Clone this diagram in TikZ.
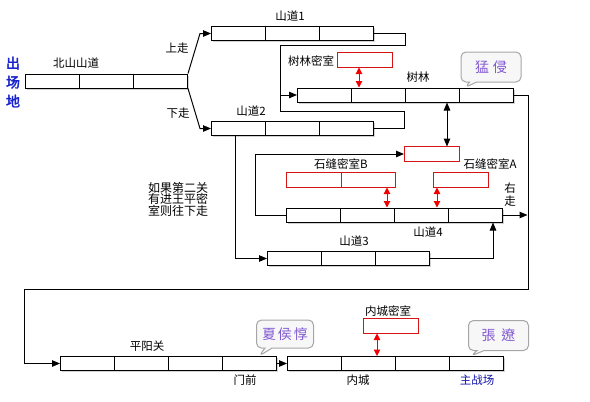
\documentclass[tikz,border=0pt]{standalone}
\usepackage{fontspec}
\setmainfont{Noto Sans CJK SC}
\newfontfamily\tcfont{Noto Sans CJK TC}
\newfontfamily\boldcjk[FakeBold=2.5]{Noto Sans CJK SC}
\usetikzlibrary{arrows.meta,shapes.callouts,shadows,calc}
\definecolor{redbox}{RGB}{215,20,20}
\definecolor{arrred}{RGB}{240,0,0}
\definecolor{callpurple}{RGB}{130,90,210}
\definecolor{bluetxt}{RGB}{20,20,170}
\definecolor{boldblue}{RGB}{25,35,205}
\newcommand\mkbar[5]{\foreach \i in {1,...,#4}{\node[#5] (#1-\i) at ({#2+54*(\i-1)},#3) {};}}
\tikzset{
  cellbase/.style={line width=1pt, minimum width=54pt, minimum height=14pt, inner sep=0pt, anchor=west},
  cell/.style={cellbase, fill=white, draw=black, drop shadow={shadow xshift=1.3pt, shadow yshift=-1.6pt, fill=black!35}},
  rcell/.style={cellbase, draw=none},
  redline/.style={draw=redbox, line width=1pt},
  lbl/.style={font=\fontsize{11.5}{13}\selectfont, inner sep=0pt},
  conn/.style={line width=1pt, draw=black},
  arr/.style={conn, -{Triangle[length=8pt,width=6.5pt]}},
  darr/.style={conn, {Triangle[length=8pt,width=6.5pt]}-{Triangle[length=8pt,width=6.5pt]}},
  rarr/.style={line width=1pt, draw=arrred, fill=arrred, {Triangle[length=6.5pt,width=6.5pt]}-{Triangle[length=6.5pt,width=6.5pt]}},
  bubble/.style={rectangle callout, draw=gray!70, line width=1pt, fill=gray!6, rounded corners=5pt,
    minimum width=60pt, minimum height=30pt, inner sep=0pt, text=callpurple, font=\tcfont\fontsize{14}{14}\selectfont}
}
\begin{document}
\begin{tikzpicture}[x=1pt,y=-1pt]
\useasboundingbox (0,0) rectangle (590,402);
% bars
\mkbar{bs}{25}{81}{3}{cell}
\mkbar{sd1}{211}{33.5}{3}{cell}
\mkbar{sd2}{211}{128.5}{3}{cell}
\mkbar{sl}{297}{95}{4}{cell}
\mkbar{sd4}{286}{215}{4}{cell}
\mkbar{sd3}{267}{258.5}{3}{cell}
\mkbar{pyg}{60}{363.5}{4}{cell}
\mkbar{nc}{287}{363.5}{4}{cell}
% red rooms (anchors), outlines drawn explicitly
\mkbar{r1}{337}{60}{1}{rcell}
\mkbar{r2}{404}{154}{1}{rcell}
\mkbar{rB}{286}{180}{2}{rcell}
\mkbar{rA}{433}{180}{1}{rcell}
\mkbar{rN}{363}{326}{1}{rcell}
\draw[redline] (r1-1.north west) rectangle (r1-1.south east);
\draw[redline] (r2-1.north west) rectangle (r2-1.south east);
\draw[redline] (rB-1.north west) rectangle (rB-2.south east);
\draw[redline] (rB-1.north east) -- (rB-1.south east);
\draw[redline] (rA-1.north west) rectangle (rA-1.south east);
\draw[redline] (rN-1.north west) rectangle (rN-1.south east);
% labels
\node[font=\boldcjk\fontsize{14}{19}\selectfont, text=boldblue, align=center, inner sep=0pt] (csd) at (13,82) {出\\场\\地};
\node[lbl] (lbs) at (76,63) {北山山道};
\node[lbl] (lup) at (177,48) {上走};
\node[lbl] (ldn) at (178,113) {下走};
\node[lbl] (lsd1) at (290,16) {山道1};
\node[lbl] (lr1) at (311,61) {树林密室};
\node[lbl] (lsl) at (418,77) {树林};
\node[lbl] (lsd2) at (251,111) {山道2};
\node[lbl] (lrB) at (341,164) {石缝密室B};
\node[lbl] (lrA) at (490,164) {石缝密室A};
\node[lbl, align=center] (lrw) at (510,195) {右\\走};
\node[lbl] (lsd4) at (428,232) {山道4};
\node[lbl] (lsd3) at (354,241) {山道3};
\node[lbl, align=center, font=\fontsize{12}{11.5}\selectfont] (lnote) at (178,199) {如果第二关\\有进王平密\\室则往下走};
\node[lbl] (lpyg) at (147,346) {平阳关};
\node[lbl] (lmq) at (245,380) {门前};
\node[lbl] (lnc) at (358,380) {内城};
\node[lbl, text=bluetxt] (lzz) at (477,380) {主战场};
\node[lbl] (lrN) at (388,311) {内城密室};
% callouts
\node[bubble, callout absolute pointer={($(sl-4.north west)+(6,0)$)}] (b1) at (491,67) {猛\hspace{4pt}侵};
\node[bubble, minimum width=57pt, minimum height=28pt, callout absolute pointer={($(pyg-4.north west)+(37,0)$)}] (b2) at (285,334) {夏\hspace{2pt}侯\hspace{2pt}惇};
\node[bubble, callout absolute pointer={($(nc-4.north west)+(22,0)$)}] (b3) at (498.5,335.5) {張\hspace{6pt}遼};
% connectors
\coordinate (u1) at (200,33.5);
\coordinate (d1) at (200,128.5);
\draw[arr] (bs-3.north east) -- (u1) -- (sd1-1.west);
\draw[arr] (bs-3.south east) -- (d1) -- (sd2-1.west);
\coordinate (a1) at (405,33.5);
\coordinate (a2) at (405,45);
\coordinate (a3) at (280,45);
\coordinate (j) at (280,95);
\coordinate (b1c) at (404,128.5);
\coordinate (b2c) at (404,111);
\coordinate (b3c) at (280,111);
\draw[arr] (sd1-3.east) -- (a1) -- (a2) -- (a3) -- (j) -- (sl-1.west);
\draw[conn] (sd2-3.east) -- (b1c) -- (b2c) -- (b3c) -- (j);
\coordinate (c1) at (528,95);
\coordinate (c2) at (528,289);
\coordinate (c3) at (24,289);
\coordinate (c4) at (24,363.5);
\draw[arr] (sl-4.east) -- (c1) -- (c2) -- (c3) -- (c4) -- (pyg-1.west);
\coordinate (rw) at (527.5,215);
\draw[arr] (sd4-4.east) -- (rw);
\coordinate (e1) at (255,215);
\coordinate (e2) at (255,154);
\draw[arr] (sd4-1.west) -- (e1) -- (e2) -- (r2-1.west);
\coordinate (f0) at (235,0);
\draw[arr] (sd2-1.south -| f0) -- (f0 |- sd3-1.west) -- (sd3-1.west);
\coordinate (g1) at (493,258.5);
\draw[arr] (sd3-3.east) -- (g1) -- (g1 |- sd4-4.south);
\coordinate (h) at (447,0);
\draw[darr] (sl-3.south -| h) -- (r2-1.north -| h);
\coordinate (k1) at (359,0);
\coordinate (k2) at (387,0);
\coordinate (k3) at (437,0);
\coordinate (k4) at (377,0);
\draw[rarr] (r1-1.south -| k1) -- (sl-2.north -| k1);
\draw[rarr] (rB-2.south -| k2) -- (sd4-2.north -| k2);
\draw[rarr] (rA-1.south -| k3) -- (sd4-3.north -| k3);
\draw[rarr] (rN-1.south -| k4) -- (nc-2.north -| k4);
\draw[arr] (pyg-4.east) -- (nc-1.west);
\end{tikzpicture}
\end{document}
